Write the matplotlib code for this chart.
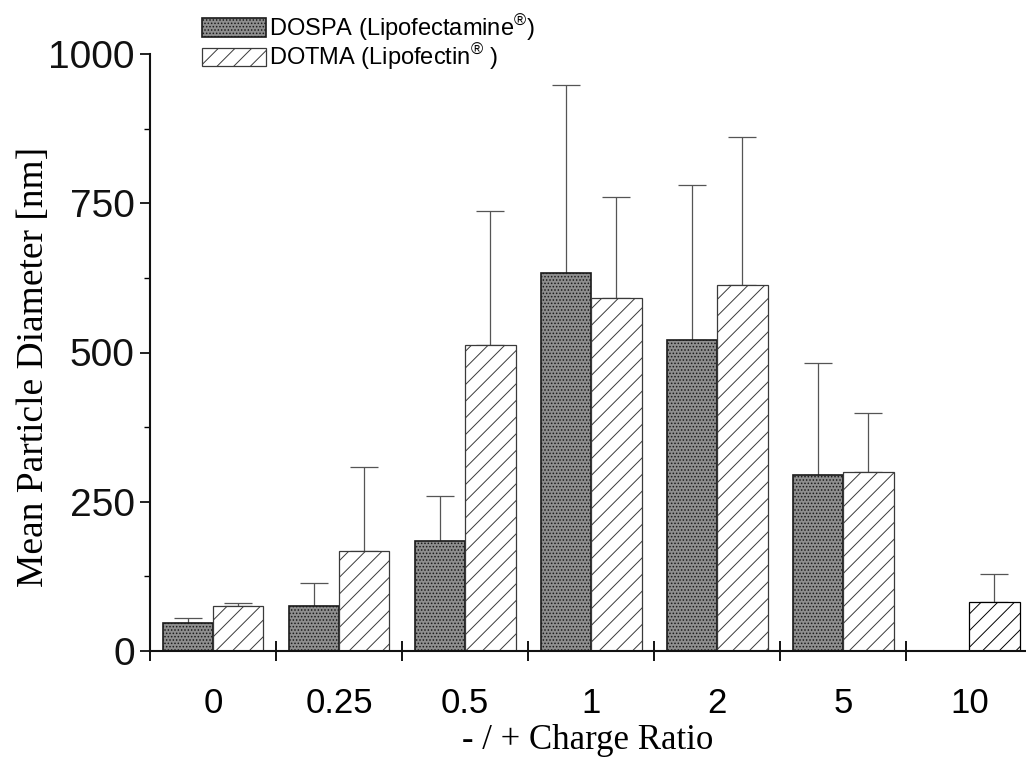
import numpy as np
import matplotlib
matplotlib.use("Agg")
import matplotlib.pyplot as plt
from matplotlib.ticker import MultipleLocator, FixedLocator, NullFormatter, FixedFormatter

plt.rcParams['mathtext.fontset'] = 'custom'
plt.rcParams['mathtext.rm'] = 'Liberation Sans'
plt.rcParams['hatch.linewidth'] = 0.7

# Charge ratios and mean particle diameters (nm) with upper standard deviations
ratios = ['0', '0.25', '0.5', '1', '2', '5', '10']
dospa_mean = [47, 75, 185, 633, 521, 295, np.nan]
dospa_sd = [8, 39, 75, 315, 259, 187, np.nan]
dotma_mean = [75, 168, 513, 591, 613, 300, 82]
dotma_sd = [5, 140, 224, 169, 248, 99, 47]

labels = [r'DOSPA (Lipofectamine$^{\mathregular{®}}$)',
          r'DOTMA (Lipofectin$^{\mathregular{®}}$ )']

fig = plt.figure(figsize=(10.26, 7.58), dpi=100)
ax = fig.add_axes([150 / 1026, 1 - 651 / 758, 876 / 1026, (651 - 54) / 758])

x = np.arange(len(ratios))
w = 0.4

b1 = ax.bar(x - w / 2, dospa_mean, width=w, facecolor='#8e8e8e', edgecolor='#1a1a1a',
            hatch='.....', linewidth=1.2, label=labels[0], zorder=2)
b2 = ax.bar(x + w / 2, dotma_mean, width=w, facecolor='white', edgecolor='#3a3a3a',
            hatch='//', linewidth=0.9, label=labels[1], zorder=2)
b2[-1].set_edgecolor('#000000')

err_kw = dict(fmt='none', ecolor='#555555', elinewidth=0.9, capsize=10, capthick=0.9, zorder=1)
ax.errorbar(x - w / 2, dospa_mean, yerr=[np.zeros(len(x)), dospa_sd], **err_kw)
ax.errorbar(x + w / 2, dotma_mean, yerr=[np.zeros(len(x)), dotma_sd], **err_kw)

ax.set_xlim(-0.5, 6.45)
ax.set_ylim(0, 1000)

for side in ('top', 'right'):
    ax.spines[side].set_visible(False)
for side in ('left', 'bottom'):
    ax.spines[side].set_linewidth(1.5)
    ax.spines[side].set_color('#111111')

# y axis
ax.yaxis.set_major_locator(MultipleLocator(250))
ax.yaxis.set_minor_locator(MultipleLocator(125))
ax.tick_params(axis='y', which='major', direction='out', length=7, width=1.3,
               labelsize=28, pad=4, colors='#111111')
ax.tick_params(axis='y', which='minor', direction='out', length=4, width=1.0)
for t in ax.get_yticklabels():
    t.set_family('Liberation Sans')

# x axis: group boundaries carry the ticks, labels sit at group centres
ax.xaxis.set_major_locator(FixedLocator(np.arange(-0.5, 6.0, 1.0)))
ax.xaxis.set_major_formatter(NullFormatter())
ax.xaxis.set_minor_locator(FixedLocator(x))
ax.xaxis.set_minor_formatter(FixedFormatter(ratios))
ax.tick_params(axis='x', which='major', direction='inout', length=14, width=1.3)
ax.tick_params(axis='x', which='minor', length=0, pad=26, labelsize=25)
for t in ax.xaxis.get_minorticklabels():
    t.set_family('Liberation Sans')

ax.set_ylabel('Mean Particle Diameter [nm]', family='Liberation Serif', fontsize=27)
ax.yaxis.set_label_coords(-0.113, 0.475)
ax.set_xlabel('- / + Charge Ratio', family='Liberation Serif', fontsize=25, labelpad=3)

leg = ax.legend(handles=[b1, b2], loc='upper left', bbox_to_anchor=(190 / 1026, 1.0),
                bbox_transform=fig.transFigure, frameon=False,
                prop={'family': 'Liberation Sans', 'size': 17},
                handlelength=2.7, handleheight=0.85, handletextpad=0.15,
                labelspacing=-0.05, borderaxespad=0.1)

fig.savefig('out.png', dpi=100)
